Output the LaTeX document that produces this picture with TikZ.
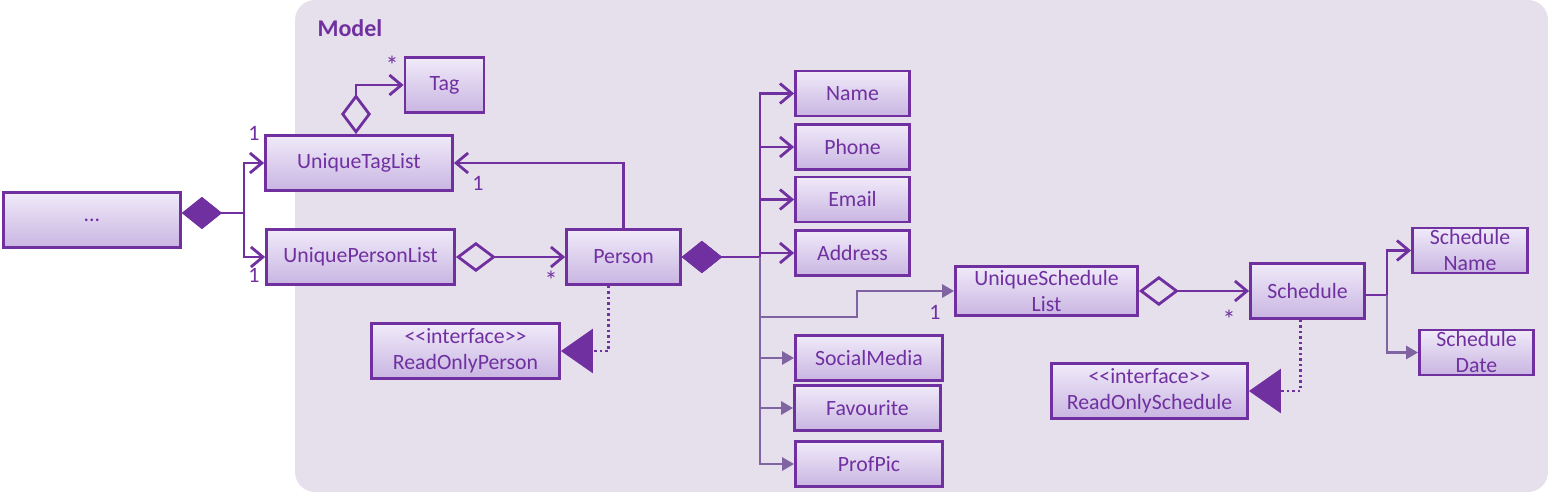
\documentclass[tikz,border=0pt]{standalone}
\usepackage{fontspec}
\setmainfont{Carlito}
\usetikzlibrary{arrows.meta,positioning}
\definecolor{umlpurple}{HTML}{7030A0}
\definecolor{umllight}{HTML}{8064A2}
\definecolor{boxtop}{HTML}{F0EAF9}
\definecolor{boxbottom}{HTML}{C9B5E2}
\definecolor{modelbg}{HTML}{E6E0EC}

\begin{document}
\begin{tikzpicture}
    [x=1pt,y=-1pt,
    umlclass/.style={rectangle,draw=umlpurple,line width=2.8pt,top color=boxtop,bottom color=boxbottom,
    text=umlpurple,font=\fontsize{21.8}{26}\selectfont,align=center,inner sep=0pt},
    mult/.style={text=umlpurple,font=\fontsize{22}{24}\selectfont,inner sep=0pt},
    star/.style={text=umlpurple,font=\fontsize{26}{28}\selectfont,inner sep=0pt},
    has/.style={draw=umlpurple,line width=2.8pt,
    {Diamond[length=40pt,width=32pt]}-{Straight Barb[length=12pt,width=20pt]}},
    agg/.style={draw=umlpurple,line width=2.8pt,
    {Diamond[open,length=40pt,width=30pt]}-{Straight Barb[length=12pt,width=20pt]}},
    assoc/.style={draw=umlpurple,line width=2.8pt,-{Straight Barb[length=12pt,width=20pt]}},
    light/.style={draw=umllight,line width=2.8pt,-{Triangle[length=12pt,width=13pt]}},
    realize/.style={draw=umlpurple,line width=2.8pt,dash pattern=on 2.5pt off 3pt,
    -{Triangle[length=32pt,width=44pt]}}]
    \useasboundingbox (0,0) rectangle (1548,492);
    \fill [modelbg,rounded corners=20pt] (295,0) rectangle (1548,492);
    \node (model label) [anchor=west,text=umlpurple,font=\fontsize{24}{28}\selectfont\bfseries] at (314,28) {Model};

    \node (dots) [umlclass,minimum width=177pt,minimum height=55pt] at (92,220) {...};
    \node (tag list) [umlclass,minimum width=187pt,minimum height=55pt] at (359,163) {UniqueTagList};
    \node (tag) [umlclass,minimum width=79pt,minimum height=55pt] at (444.5,85) {Tag};
    \node (person list) [umlclass,minimum width=188pt,minimum height=55pt] at (360.5,257) {UniquePersonList};
    \node (person) [umlclass,minimum width=114pt,minimum height=55pt] at (623.5,257) {Person};
    \node (ro person) [umlclass,minimum width=188pt,minimum height=55pt] at (465.5,351)
        {<\kern0pt<interface>\kern0pt>\\ReadOnlyPerson};
    \node (name) [umlclass,minimum width=114pt,minimum height=45pt] at (852.5,93.5) {Name};
    \node (phone) [umlclass,minimum width=114pt,minimum height=45pt] at (852.5,147) {Phone};
    \node (email) [umlclass,minimum width=114pt,minimum height=45pt] at (852.5,199.5) {Email};
    \node (address) [umlclass,minimum width=114pt,minimum height=45pt] at (852.5,253) {Address};
    \node (social) [umlclass,minimum width=147pt,minimum height=45pt] at (869,358) {SocialMedia};
    \node (favourite) [umlclass,minimum width=146pt,minimum height=45pt] at (867.5,408) {Favourite};
    \node (prof pic) [umlclass,minimum width=147pt,minimum height=45pt] at (869,464) {ProfPic};
    \node (schedule list) [umlclass,minimum width=182pt,minimum height=49pt] at (1046.5,291) {UniqueSchedule\\List};
    \node (schedule) [umlclass,minimum width=114pt,minimum height=55pt] at (1307.5,291) {Schedule};
    \node (schedule name) [umlclass,minimum width=115pt,minimum height=45pt] at (1470,250.5) {Schedule\\Name};
    \node (schedule date) [umlclass,minimum width=114pt,minimum height=45pt] at (1476.5,352.5) {Schedule\\Date};
    \node (ro schedule) [umlclass,minimum width=196pt,minimum height=55pt] at (1149.5,391)
        {<\kern0pt<interface>\kern0pt>\\ReadOnlySchedule};

    \draw [has] ([yshift=7pt]dots.east) -- ++(62,0) |- (tag list.west);
    \draw [has] ([yshift=7pt]dots.east) -- ++(62,0) |- (person list.west);
    \draw [agg] ([xshift=-3pt]tag list.north) |- (tag.west);
    \draw [assoc] (person.north) |- (tag list.east);
    \draw [agg] (person list.east) -- (person.west);
    \draw [realize] ([xshift=-15pt]person.south) |- (ro person.east);
    \foreach \field in {name,phone,email,address}
        \draw [has] (person.east) -- ++(78,0) |- (\field.west);
    \foreach \field in {social,favourite,prof pic}
        \draw [light] (person.east) ++(78,0) |- (\field.west);
    \draw [light] (person.east) ++(78,60) -- ++(97,0) |- (schedule list.west);
    \draw [agg] (schedule list.east) -- (schedule.west);
    \draw [assoc] ([yshift=-4pt]schedule.east) -- ++(21,0) |- (schedule name.west);
    \draw [light] ([yshift=-4pt]schedule.east) ++(21,0) |- (schedule date.west);
    \draw [realize] ([xshift=-7pt]schedule.south) |- (ro schedule.east);

    \node (tag list one) [mult] at (254,133) {1};
    \node (person list one) [mult] at (254,275) {1};
    \node (tag star) [star] at (392,65) {*};
    \node (person tag one) [mult] at (478,183) {1};
    \node (person star) [star] at (551,280) {*};
    \node (schedule list one) [mult] at (935,312) {1};
    \node (schedule star) [star] at (1229,319) {*};
\end{tikzpicture}
\end{document}
